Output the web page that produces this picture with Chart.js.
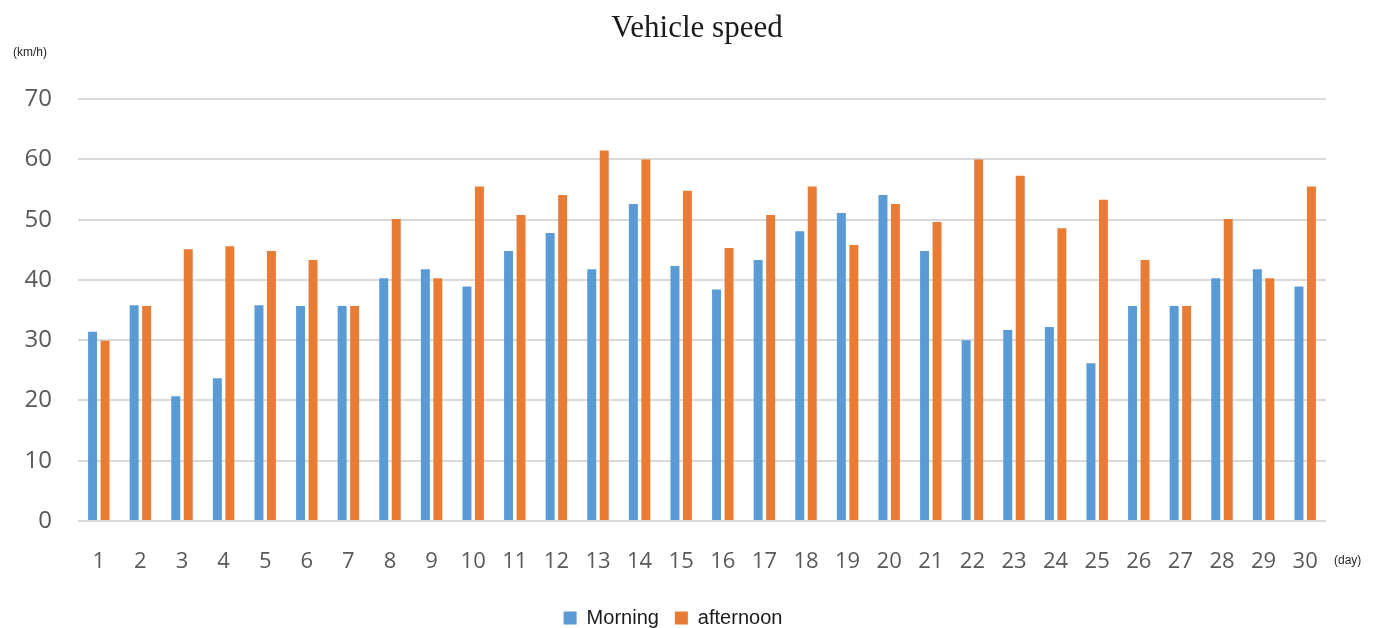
<!DOCTYPE html>
<html>
<head>
<meta charset="utf-8">
<script src="https://cdn.jsdelivr.net/npm/chart.js@4.4.0/dist/chart.umd.min.js"></script>
<style>
  html, body { margin: 0; padding: 0; background: #ffffff; }
  #wrap { width: 1373px; height: 628px; position: relative; }
</style>
</head>
<body>
<div id="wrap"><canvas id="c" width="1373" height="628"></canvas></div>
<script>
const days = ['1','2','3','4','5','6','7','8','9','10','11','12','13','14','15','16','17','18','19','20','21','22','23','24','25','26','27','28','29','30'];
const morning = [31.4, 35.8, 20.7, 23.7, 35.8, 35.7, 35.7, 40.3, 41.8, 38.9, 44.8, 47.8, 41.8, 52.6, 42.3, 38.4, 43.3, 48.1, 51.1, 54.1, 44.8, 30.0, 31.7, 32.2, 26.2, 35.7, 35.7, 40.3, 41.8, 38.9];
const afternoon = [29.9, 35.7, 45.1, 45.6, 44.8, 43.3, 35.7, 50.1, 40.3, 55.5, 50.8, 54.1, 61.5, 60.0, 54.8, 45.3, 50.8, 55.5, 45.8, 52.6, 49.6, 60.0, 57.3, 48.6, 53.3, 43.3, 35.7, 50.1, 40.3, 55.5];
const yTicks = [0, 10, 20, 30, 40, 50, 60, 70];
const seriesNames = ['Morning', 'afternoon'];
const titleText = 'Vehicle speed';
const yUnit = '(km/h)';
const xUnit = '(day)';

const unitLabels = {
  id: 'unitLabels',
  afterLayout(chart) {
    const lg = chart.legend;
    if (lg) { lg.top += 10; lg.bottom += 10; lg.left += 10; lg.right += 10; }
    const tb = chart.titleBlock;
    if (tb) { tb.left += 34; tb.right += 34; }
  },
  afterDraw(chart) {
    const ctx = chart.ctx;
    const area = chart.chartArea;
    ctx.save();
    ctx.fillStyle = '#262626';
    ctx.font = '12px "Liberation Sans", Arial, sans-serif';
    ctx.textBaseline = 'middle';
    ctx.textAlign = 'left';
    ctx.fillText(yUnit, 13, 53);
    ctx.fillText(xUnit, area.right + 8, 561);
    ctx.restore();
  }
};

new Chart(document.getElementById('c'), {
  type: 'bar',
  data: {
    labels: days,
    datasets: [
      { label: seriesNames[0], data: morning, backgroundColor: '#5B9BD5', barPercentage: 0.72, categoryPercentage: 0.6 },
      { label: seriesNames[1], data: afternoon, backgroundColor: '#E97C35', barPercentage: 0.72, categoryPercentage: 0.6 }
    ]
  },
  options: {
    responsive: false,
    animation: false,
    devicePixelRatio: 1,
    layout: { padding: { left: 0, right: 47, top: 0, bottom: 0 } },
    plugins: {
      title: {
        display: true,
        text: titleText,
        color: '#1a1a1a',
        font: { family: '"Liberation Serif", "Times New Roman", serif', size: 31, weight: 'normal' },
        padding: { top: 10, bottom: 52 }
      },
      legend: {
        position: 'bottom',
        labels: {
          color: '#1a1a1a',
          font: { family: '"Liberation Sans", Arial, sans-serif', size: 20 },
          boxWidth: 13, boxHeight: 13, padding: 16
        }
      },
      tooltip: { enabled: false }
    },
    scales: {
      x: {
        grid: { display: false },
        border: { display: false },
        ticks: { color: '#595959', font: { family: '"Open Sans", sans-serif', size: 22 }, padding: 20, maxRotation: 0, autoSkip: false },
        afterFit(scale) { scale.height = 61; }
      },
      y: {
        min: 0, max: 70,
        afterBuildTicks(scale) { scale.ticks = yTicks.map(v => ({ value: v })); },
        grid: { color: '#d9d9d9', lineWidth: 2, drawTicks: false },
        border: { display: false },
        ticks: { color: '#595959', font: { family: '"Open Sans", sans-serif', size: 24 }, padding: 26 },
        afterFit(scale) { scale.width = 78; }
      }
    }
  },
  plugins: [unitLabels]
});
</script>
</body>
</html>
